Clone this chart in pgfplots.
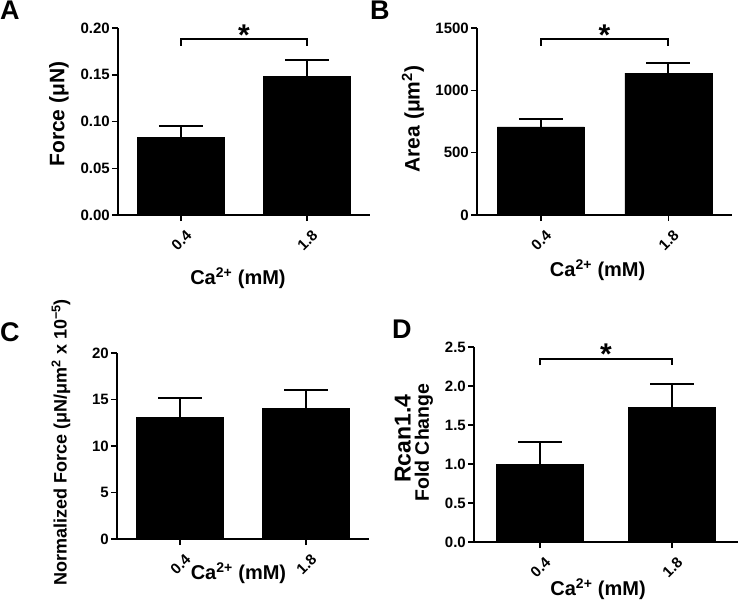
\documentclass[border=0pt]{standalone}
\usepackage{fontspec}
\setmainfont{Liberation Sans}
\usepackage{pgfplots}
\pgfplotsset{compat=1.18}
\begin{document}
\begin{tikzpicture}
\path[use as bounding box] (0,0) rectangle (740pt,-610pt);
\pgfplotsset{
 panel/.style={
  scale only axis, clip=false, anchor=south west,
  axis x line*=bottom, axis y line*=left,
  axis line style={line width=1.5pt, black},
  xmin=-0.5, xmax=1.5, ymin=0,
  xtick={0,1}, xticklabels={0.4,1.8},
  tick align=outside, major tick length=6pt,
  tick style={black, line width=1.5pt},
  tick label style={font=\bfseries\fontsize{15}{15}\selectfont},
  /pgf/number format/assume math mode=true,
  x tick label style={xshift=4pt, yshift=-8pt, rotate=45, anchor=north east, inner sep=0pt},
  y tick label style={inner sep=2pt},
  label style={font=\bfseries\fontsize{20}{22}\selectfont},
  ylabel style={font=\bfseries\fontsize{21}{23}\selectfont},
  scaled y ticks=false,
  /pgf/number format/1000 sep={},
  ybar, bar width=87pt,
 },
 bars/.style={fill=black, draw=black,
   error bars/y dir=plus, error bars/y explicit,
   error bars/error bar style={line width=2pt, black},
   error bars/error mark options={rotate=90, line width=2pt, mark size=22pt, black}},
}
\tikzset{
 bracket/.style={line width=2pt, black},
 star/.style={font=\bfseries\fontsize{30}{30}\selectfont, anchor=base, inner sep=0pt},
 letter/.style={font=\bfseries\fontsize{27}{27}\selectfont, anchor=base west, inner sep=0pt},
}
% Panel A
\begin{axis}[panel, at={(118pt,-215pt)}, width=252pt, height=187pt,
  ymax=0.2, ytick={0,0.05,0.1,0.15,0.2},
  yticklabel style={/pgf/number format/.cd, fixed, fixed zerofill, precision=2},
  xlabel={Ca\textsuperscript{2+} (mM)}, ylabel={Force (μN)},
  xlabel style={at={(axis description cs:0.476,-0.337)}, anchor=center},
  ylabel style={at={(axis description cs:-0.234,0.54)}, anchor=center}]
\addplot[bars] coordinates {(0,0.083) +- (0,0.0125) (1,0.148) +- (0,0.0174)};
\draw[bracket] (axis cs:0,0.181) -- (axis cs:0,0.188) -- (axis cs:1,0.188) -- (axis cs:1,0.181);
\node[star] at (axis cs:0.5,0.181) {*};
\end{axis}
% Panel B
\begin{axis}[panel, at={(477pt,-215pt)}, width=255pt, height=187pt,
  ymax=1500, ytick={0,500,1000,1500},
  xlabel={Ca\textsuperscript{2+} (mM)}, ylabel={Area (μm\textsuperscript{2})},
  xlabel style={at={(axis description cs:0.473,-0.294)}, anchor=center},
  ylabel style={at={(axis description cs:-0.251,0.513)}, anchor=center}]
\addplot[bars] coordinates {(0,707) +- (0,62) (1,1138) +- (0,83)};
\draw[bracket] (axis cs:0,1358) -- (axis cs:0,1414) -- (axis cs:1,1414) -- (axis cs:1,1358);
\node[star] at (axis cs:0.5,1362) {*};
\end{axis}
% Panel C
\begin{axis}[panel, at={(117pt,-539pt)}, width=252pt, height=186pt,
  ymax=20, ytick={0,5,10,15,20},
  xlabel={Ca\textsuperscript{2+} (mM)},
  ylabel={Normalized Force (μN/μm\textsuperscript{2} x 10\textsuperscript{−5})},
  xlabel style={at={(axis description cs:0.482,-0.183)}, anchor=center},
  ylabel style={at={(axis description cs:-0.222,0.52)}, anchor=center, font=\bfseries\fontsize{18}{20}\selectfont}]
\addplot[bars] coordinates {(0,13.1) +- (0,2.04) (1,14.07) +- (0,2.0)};
\end{axis}
% Panel D
\begin{axis}[panel, at={(474pt,-542pt)}, width=264pt, height=195pt,
  ymax=2.5, ytick={0,0.5,1,1.5,2,2.5},
  yticklabel style={/pgf/number format/.cd, fixed, fixed zerofill, precision=1},
  xlabel={Ca\textsuperscript{2+} (mM)},
  ylabel={Fold Change},
  xlabel style={at={(axis description cs:0.47,-0.241)}, anchor=center},
  ylabel style={at={(axis description cs:-0.19,0.51)}, anchor=center, font=\bfseries\fontsize{19.5}{22}\selectfont}]
\addplot[bars] coordinates {(0,1.0) +- (0,0.286) (1,1.73) +- (0,0.296)};
\draw[bracket] (axis cs:0,2.265) -- (axis cs:0,2.35) -- (axis cs:1,2.35) -- (axis cs:1,2.265);
\node[star] at (axis cs:0.5,2.273) {*};
\node[rotate=90, anchor=center, inner sep=0pt, font=\bfseries\fontsize{23}{23}\selectfont] at (axis description cs:-0.27,0.53) {Rcan1.4};
\end{axis}
% Panel letters
\node[letter] at (0pt,-20pt) {A};
\node[letter] at (370pt,-20pt) {B};
\node[letter] at (0pt,-341pt) {C};
\node[letter] at (392pt,-338pt) {D};
\end{tikzpicture}
\end{document}
